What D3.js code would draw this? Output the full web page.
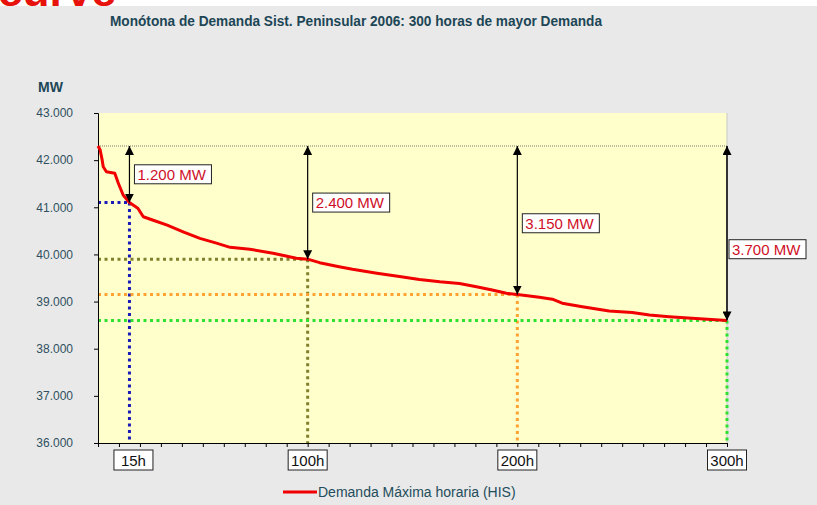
<!DOCTYPE html>
<html>
<head>
<meta charset="utf-8">
<script src="https://cdn.jsdelivr.net/npm/d3@7"></script>
<style>
  body { margin: 0; background: #e9e9e9; }
  svg { display: block; font-family: 'Liberation Sans', Arial, sans-serif; }
</style>
</head>
<body>
<svg></svg>
<script>
const CHART_SIZE = { width: 817, height: 505 };
const MARGIN = { left: 98, right: 90, top: 113, bottom: 62 };
const WIDTH = CHART_SIZE.width - MARGIN.left - MARGIN.right;
const HEIGHT = CHART_SIZE.height - MARGIN.top - MARGIN.bottom;

// monotone demand curve
const hours = [0, 1, 2, 2.5, 4, 8, 9.7, 12, 15, 19, 21.6, 26, 33, 40.6, 48.6, 56.5, 63, 72.4, 83.5, 94.6, 100,
  105.7, 115, 121.4, 133, 143.8, 153.3, 163, 172.4, 180.5, 188, 194.8, 200, 210.5, 216.7, 221.4, 231, 243.8,
  254.8, 263, 272.4, 283.3, 300];
const demand = [42300, 42220, 42000, 41860, 41755, 41720, 41510, 41260, 41100, 40980, 40800, 40730, 40620,
  40480, 40340, 40240, 40150, 40110, 40025, 39920, 39900, 39825, 39740, 39685, 39600, 39530, 39470, 39420,
  39385, 39315, 39245, 39175, 39150, 39090, 39050, 38965, 38890, 38800, 38770, 38715, 38680, 38645, 38600];

const peak = 42300;
const markHours = [15, 100, 200, 300];
const markValues = [41100, 39900, 39150, 38600];
const markLabels = ['1.200 MW', '2.400 MW', '3.150 MW', '3.700 MW'];
const markColors = ['#1a1ab8', '#80802a', '#ffa232', '#30e030'];
const labelShift = [0, 0, 3, 16];

const yTicks = [36000, 37000, 38000, 39000, 40000, 41000, 42000, 43000];
const xTicks = d3.range(0, 301, 10);
const xLabels = [15, 100, 200, 300];

const title = 'Monótona de Demanda Sist. Peninsular 2006: 300 horas de mayor Demanda';
const legendLabel = 'Demanda Máxima horaria (HIS)';

const esFormat = d3.formatLocale({ decimal: ',', thousands: '.', grouping: [3], currency: ['', ' €'] }).format(',d');

const svg = d3.select('svg')
  .attr('width', CHART_SIZE.width)
  .attr('height', CHART_SIZE.height);

svg.append('rect').attr('width', CHART_SIZE.width).attr('height', CHART_SIZE.height).attr('fill', '#e9e9e9');
svg.append('rect').attr('width', CHART_SIZE.width).attr('height', 6).attr('fill', '#fff');

// heading of the page above, cut off by the crop as in the reference
svg.append('text')
  .attr('x', -2).attr('y', 6)
  .attr('font-size', 40).attr('font-weight', 'bold')
  .attr('fill', '#e8120c')
  .attr('textLength', 118).attr('lengthAdjust', 'spacingAndGlyphs')
  .text('curve');

svg.append('text')
  .attr('x', 110).attr('y', 26)
  .attr('font-size', 14).attr('font-weight', 'bold')
  .attr('fill', '#1c4656')
  .attr('textLength', 492).attr('lengthAdjust', 'spacingAndGlyphs')
  .text(title);

svg.append('text')
  .attr('x', 38).attr('y', 92)
  .attr('font-size', 14).attr('font-weight', 'bold')
  .attr('fill', '#1c4656')
  .text('MW');

const defs = svg.append('defs');
defs.append('marker')
  .attr('id', 'head')
  .attr('viewBox', '0 0 10 10')
  .attr('refX', 10).attr('refY', 5)
  .attr('markerUnits', 'userSpaceOnUse')
  .attr('markerWidth', 9).attr('markerHeight', 9)
  .attr('orient', 'auto-start-reverse')
  .append('path').attr('d', 'M0,0L10,5L0,10Z').attr('fill', '#000');

const g = svg.append('g').attr('transform', `translate(${MARGIN.left},${MARGIN.top})`);

const x = d3.scaleLinear().domain([0, 300]).range([0, WIDTH]);
const y = d3.scaleLinear().domain([36000, 43000]).range([HEIGHT, 0]);

g.append('rect').attr('width', WIDTH).attr('height', HEIGHT).attr('fill', '#ffffcc');
g.append('line')
  .attr('x1', WIDTH).attr('x2', WIDTH).attr('y1', 0).attr('y2', HEIGHT)
  .attr('stroke', '#c8c8c8');

// peak reference
g.append('line')
  .attr('x1', x(0)).attr('x2', x(300)).attr('y1', y(peak)).attr('y2', y(peak))
  .attr('stroke', '#7a7a6a').attr('stroke-dasharray', '1,1');

// coloured drop lines
markHours.forEach((h, i) => {
  const dots = g.append('g')
    .attr('stroke', markColors[i]).attr('stroke-width', 3).attr('stroke-dasharray', '3,3.5');
  dots.append('line')
    .attr('x1', x(0)).attr('x2', x(h)).attr('y1', y(markValues[i])).attr('y2', y(markValues[i]));
  dots.append('line')
    .attr('x1', x(h)).attr('x2', x(h)).attr('y1', y(markValues[i])).attr('y2', y(36000));
});

const yAxis = d3.axisLeft(y).tickValues(yTicks).tickSize(4).tickPadding(21).tickFormat(esFormat);
g.append('g').attr('class', 'y axis').call(yAxis)
  .call(a => a.selectAll('text').attr('font-size', 12).attr('fill', '#2f5060'))
  .call(a => a.selectAll('line, path').attr('stroke', '#000'));

const xAxis = d3.axisBottom(x).tickValues(xTicks).tickSize(4).tickFormat('').tickSizeOuter(0);
g.append('g').attr('class', 'x axis').attr('transform', `translate(0,${HEIGHT})`).call(xAxis)
  .call(a => a.selectAll('line, path').attr('stroke', '#000'));

const line = d3.line().x((d, i) => x(hours[i])).y(d => y(d));
g.append('path')
  .attr('d', line(demand))
  .attr('fill', 'none').attr('stroke', '#f00000').attr('stroke-width', 3)
  .attr('stroke-linejoin', 'round');

// arrows and value boxes
markHours.forEach((h, i) => {
  g.append('line')
    .attr('x1', x(h)).attr('x2', x(h))
    .attr('y1', y(peak)).attr('y2', y(markValues[i]))
    .attr('stroke', i === 3 ? '#333' : '#000').attr('stroke-width', i === 3 ? 2 : 1.2)
    .attr('marker-start', 'url(#head)').attr('marker-end', 'url(#head)');

  const cy = (y(peak) + y(markValues[i])) / 2 + labelShift[i];
  const bx = Math.min(x(h) + 5, WIDTH + 2);
  const box = g.append('g').attr('transform', `translate(${bx},${cy - 9.5})`);
  box.append('rect').attr('width', 77).attr('height', 19)
    .attr('fill', '#fff').attr('stroke', '#222');
  box.append('text').attr('x', 3).attr('y', 15)
    .attr('font-size', 15).attr('fill', '#d01028')
    .text(markLabels[i]);
});

// boxed hour labels
xLabels.forEach(h => {
  const lx = x(h) + (h === 15 ? 4 : 0);
  const lb = g.append('g').attr('transform', `translate(${lx - 19.5},${HEIGHT + 7})`);
  lb.append('rect').attr('width', 39).attr('height', 20)
    .attr('fill', '#fff').attr('stroke', '#222');
  lb.append('text').attr('x', 19.5).attr('y', 15.5).attr('text-anchor', 'middle')
    .attr('font-size', 15).attr('fill', '#111')
    .text(h + 'h');
});

// legend
const lg = svg.append('g').attr('transform', 'translate(283,492)');
lg.append('line').attr('x1', 0).attr('x2', 34).attr('stroke', '#f00000').attr('stroke-width', 3);
lg.append('text').attr('x', 35).attr('y', 5)
  .attr('font-size', 14).attr('fill', '#234d5c')
  .text(legendLabel);
</script>
</body>
</html>
